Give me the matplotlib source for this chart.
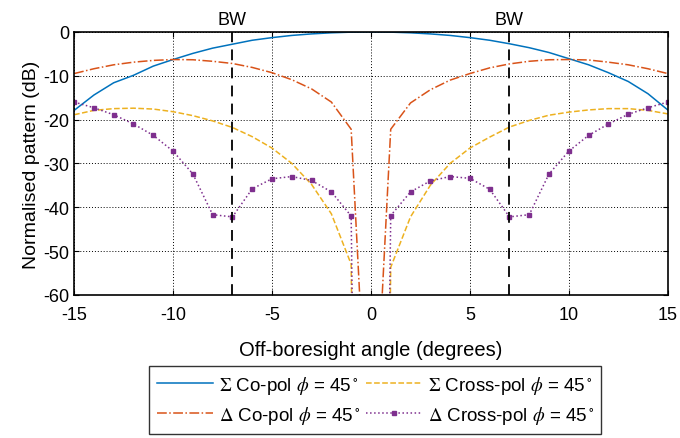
import numpy as np
import matplotlib
matplotlib.use("Agg")
import matplotlib.pyplot as plt

plt.rcParams['font.family'] = ['Liberation Sans', 'DejaVu Sans']
plt.rcParams['mathtext.fontset'] = 'stix'
plt.rcParams['axes.unicode_minus'] = False

# ================================================
# Data
# ================================================
angle = np.arange(-15, 16)

sum_co = [-17.9, -14.4, -11.6, -9.9, -7.8, -6.3, -4.9, -3.7, -2.8, -1.9, -1.3, -0.8, -0.45, -0.2, -0.05,
          0.0,
          -0.05, -0.2, -0.45, -0.8, -1.3, -1.9, -2.7, -3.6, -4.7, -6.1, -7.5, -9.3, -11.3, -14.1, -17.8]

delta_co = [-9.5, -8.4, -7.5, -6.9, -6.5, -6.3, -6.35, -6.7, -7.2, -8.1, -9.3, -10.9, -13.0, -16.0, -22.2,
            -110.0,
            -22.2, -16.2, -13.2, -11.0, -9.5, -8.2, -7.3, -6.7, -6.35, -6.3, -6.4, -6.9, -7.5, -8.4, -9.5]

sum_cross = [-18.9, -17.9, -17.5, -17.4, -17.6, -18.2, -19.1, -20.3, -21.8, -23.9, -26.5, -30.0, -34.8, -41.5, -53.0,
             -400.0,
             -53.7, -42.2, -35.0, -30.0, -26.5, -24.0, -21.7, -20.2, -19.0, -18.3, -17.8, -17.5, -17.5, -17.9, -18.7]

delta_cross = [-16.0, -17.3, -18.9, -21.0, -23.6, -27.2, -32.4, -41.7, -42.2, -35.8, -33.5, -33.0, -33.9, -36.5, -42.0,
               -400.0,
               -41.9, -36.5, -34.0, -33.0, -33.4, -35.9, -42.2, -41.7, -32.4, -27.2, -23.6, -21.0, -18.8, -17.3, -16.0]

bw_angle = 7

# ================================================
# Plot
# ================================================
fig = plt.figure(figsize=(6.8, 4.39), dpi=100)
ax = fig.add_axes([0.109, 0.326, 0.873, 0.599])

l1, = ax.plot(angle, sum_co, '-', color='#0072BD', lw=1.1,
              label=r'$\Sigma$ Co-pol $\phi$ = 45$^\circ$')
l2, = ax.plot(angle, delta_co, '-.', color='#D95319', lw=1.1,
              label=r'$\Delta$ Co-pol $\phi$ = 45$^\circ$')
l3, = ax.plot(angle, sum_cross, '--', color='#EDB120', lw=1.1,
              label=r'$\Sigma$ Cross-pol $\phi$ = 45$^\circ$')
l4, = ax.plot(angle, delta_cross, ':', color='#7E2F8E', lw=1.1, marker='s', ms=2.5,
              label=r'$\Delta$ Cross-pol $\phi$ = 45$^\circ$')

for b in (-bw_angle, bw_angle):
    ax.axvline(b, color='black', ls=(0, (6, 4)), lw=1.3)
    ax.text(b, 1.0, 'BW', ha='center', va='bottom', fontsize=13)

ax.set_xlim(-15, 15)
ax.set_ylim(-60, 0)
ax.set_xticks(np.arange(-15, 16, 5))
ax.set_yticks(np.arange(-60, 1, 10))
ax.grid(True, color='black', ls=(0, (1, 2)), lw=0.7)
ax.tick_params(direction='in', top=True, right=True, labelsize=13)
ax.tick_params(axis='x', pad=8)
for s in ax.spines.values():
    s.set_linewidth(1.2)

ax.set_xlabel('Off-boresight angle (degrees)', fontsize=14.5, labelpad=12)
ax.set_ylabel('Normalised pattern (dB)', fontsize=14, labelpad=2)

fig.legend(handles=[l1, l2, l3, l4], ncol=2, loc='center', bbox_to_anchor=(0.552, 0.087),
           fontsize=13.5, frameon=True, fancybox=False, edgecolor='black',
           handlelength=3, columnspacing=0.3, handletextpad=0.3, borderpad=0.4, labelspacing=0.45)

fig.savefig('out.png', dpi=100)
